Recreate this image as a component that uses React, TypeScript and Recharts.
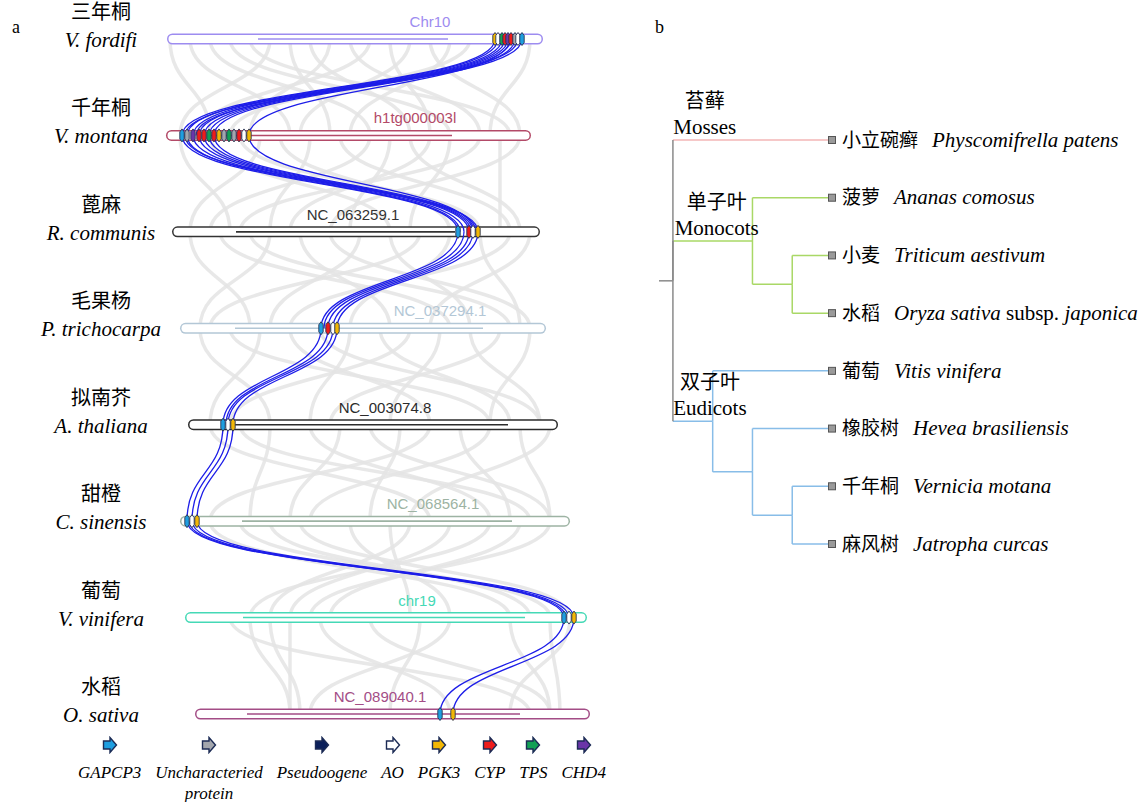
import React from "react";
import { ComposedChart, Line, Scatter, XAxis, YAxis, Legend } from "recharts";

const SERIF = "'Liberation Serif', 'Times New Roman', 'Noto Sans CJK SC', serif";
const SANS = "'Liberation Sans', Arial, sans-serif";

// ---- panel a: collinearity across 8 genomes ----
const speciesZh = ["三年桐", "千年桐", "蓖麻", "毛果杨", "拟南芥", "甜橙", "葡萄", "水稻"];
const speciesLatin = [
  "V. fordifi",
  "V. montana",
  "R. communis",
  "P. trichocarpa",
  "A. thaliana",
  "C. sinensis",
  "V. vinifera",
  "O. sativa",
];
const chromNames = [
  "Chr10",
  "h1tg000003l",
  "NC_063259.1",
  "NC_037294.1",
  "NC_003074.8",
  "NC_068564.1",
  "chr19",
  "NC_089040.1",
];
const chromColors = ["#9d8cf0", "#b34a68", "#333333", "#b3c7d6", "#2b2b2b", "#9db3a3", "#45d9b6", "#a34d86"];
// chromosome extents and inner segment, Mb
const chromStart = [1.7, 1.6, 2.2, 3.0, 3.8, 3.0, 3.5, 4.5];
const chromEnd = [39.3, 38.1, 39.0, 39.6, 40.8, 42.0, 43.7, 44.0];
const innerStart = [10.8, 6.0, 8.6, 8.5, 8.5, 9.2, 9.3, 9.7];
const innerEnd = [29.8, 30.2, 30.5, 33.3, 35.8, 36.2, 37.5, 37.0];
const chromLabelPos = [28.0, 26.5, 20.3, 29.0, 23.5, 28.3, 26.7, 23.0];

const genes = ["GAPCP3", "Uncharacteried protein", "Pseudoogene", "AO", "PGK3", "CYP", "TPS", "CHD4"];
const geneColors = ["#1e9ee0", "#a3a6ad", "#0b1f5a", "#ffffff", "#f2b705", "#ee1c1c", "#12a055", "#6a35a8"];

// gene positions on each chromosome and which gene (index into genes)
const markerPos = [
  [34.5, 34.8, 35.2, 35.5, 35.8, 36.1, 36.5, 36.8, 37.2],
  [3.2, 3.7, 4.3, 4.9, 5.4, 5.9, 6.4, 6.9, 7.4, 7.9, 8.4, 8.9, 9.4, 9.9],
  [30.8, 31.9, 32.3, 32.8],
  [17.1, 17.8, 18.3, 18.7],
  [7.3, 7.8, 8.3],
  [3.7, 4.2, 4.7],
  [41.4, 41.9, 42.4],
  [29.0, 30.3],
];
const markerGene = [
  [4, 3, 6, 5, 7, 5, 1, 3, 0],
  [0, 1, 7, 5, 5, 6, 5, 4, 1, 6, 1, 5, 3, 4],
  [0, 5, 3, 4],
  [0, 5, 3, 4],
  [0, 3, 4],
  [0, 3, 4],
  [0, 3, 4],
  [0, 4],
];

// highlighted links between neighbouring rows: [upper pos, lower pos]
const blueLinks = [
  [[34.5, 3.2], [34.8, 3.7], [35.2, 4.3], [35.5, 4.9], [35.8, 5.4], [36.1, 5.9], [36.5, 6.4], [36.8, 3.5], [37.2, 4.6], [36.0, 9.9]],
  [[3.2, 30.8], [3.7, 31.0], [4.3, 31.4], [4.9, 31.9], [5.4, 32.1], [5.9, 32.3], [6.4, 32.6], [3.5, 32.8], [9.9, 32.4]],
  [[30.8, 17.1], [31.4, 17.4], [31.9, 17.8], [32.3, 18.3], [32.8, 18.7]],
  [[17.1, 7.3], [17.8, 7.6], [18.3, 7.8], [18.7, 8.3]],
  [[7.3, 3.7], [7.8, 4.2], [8.3, 4.7]],
  [[3.7, 41.4], [3.9, 41.6], [4.2, 41.9], [4.7, 42.4]],
  [[41.4, 29.0], [42.4, 30.3]],
];

// background collinear blocks
const grayLinks = [
  [[2, 6], [4, 14], [6, 22], [8, 30], [10, 36], [12, 3], [14, 18], [16, 26], [18, 10], [20, 33], [22, 5], [24, 28], [26, 15], [28, 37], [30, 20], [32, 8], [38, 34]],
  [[3, 8], [6, 24], [9, 33], [11, 4], [13, 30], [16, 12], [19, 36], [22, 6], [24, 20], [26, 37], [28, 14], [30, 26], [33, 9], [35, 35], [37, 18]],
  [[4, 10], [7, 30], [10, 36], [12, 5], [15, 24], [18, 38], [21, 12], [24, 32], [27, 6], [30, 20], [33, 37], [36, 14], [38, 28]],
  [[5, 12], [8, 34], [11, 6], [14, 28], [17, 39], [20, 16], [23, 36], [26, 8], [29, 24], [32, 39], [35, 18], [38, 34]],
  [[6, 28], [9, 38], [12, 10], [16, 34], [19, 14], [22, 40], [25, 22], [28, 6], [31, 36], [34, 16], [37, 40], [40, 26]],
  [[6, 36], [9, 40], [12, 38], [15, 42], [20, 30], [26, 12], [30, 14], [34, 10], [37, 18], [40, 16], [24, 26]],
  [[8, 38], [10, 14], [12, 15], [14, 14], [17, 30], [22, 40], [30, 16], [36, 40], [40, 41], [42, 36], [27, 24]],
];

// ---- panel b: species tree ----
const leafZh = ["小立碗癣", "菠萝", "小麦", "水稻", "葡萄", "橡胶树", "千年桐", "麻风树"];
const leafLatin = [
  "Physcomifrella patens",
  "Ananas comosus",
  "Triticum aestivum",
  "Oryza sativa subsp. japonica",
  "Vitis vinifera",
  "Hevea brasiliensis",
  "Vernicia motana",
  "Jatropha curcas",
];
// internal nodes: root, monocots, wheat+rice, eudicots, rubber+(tung, jatropha), tung+jatropha
const nodeDepth = [0, 2, 3, 1, 2, 3];
const nodeY = [2.44, 1.75, 2.5, 4.875, 5.75, 6.5];
const leafDepth = 4;
const rootStub = -0.35;
// edges: parent node -> child ("N" node / "L" leaf)
const edgeParent = [0, 0, 1, 1, 2, 2, 0, 3, 3, 4, 4, 5, 5];
const edgeChild = ["L0", "N1", "L1", "N2", "L2", "L3", "N3", "L4", "N4", "L5", "N5", "L6", "L7"];
const edgeColor = [
  "#f3b6b6",
  "#a9d866", "#a9d866", "#a9d866", "#a9d866", "#a9d866",
  "#88bde8", "#88bde8", "#88bde8", "#88bde8", "#88bde8", "#88bde8", "#88bde8",
];
const rootColor = "#8a8a8a";
const cladeZh = ["苔藓", "单子叶", "双子叶"];
const cladeEn = ["Mosses", "Monocots", "Eudicots"];
// label centre (depth) and the branch it sits on
const cladeX = [0.8, 1.1, 0.93];
const cladeY = [0, 1.75, 4.875];

const rows = speciesZh.map((_, i) => i);

const markerData = markerPos.flatMap((list, r) =>
  list.map((x, j) => ({ x, y: r, gene: markerGene[r][j] }))
);
const chromLabelData = chromNames.map((name, r) => ({
  x: chromLabelPos[r],
  y: r,
  name,
  color: chromColors[r],
}));

// round caps stick out half the stroke (5.5px = 0.55 Mb)
const CAP = 0.55;

function GeneMark(props: any) {
  const { cx, cy, payload } = props;
  const d = `M${cx - 2.2},${cy - 3.5} L${cx},${cy - 6.5} L${cx + 2.2},${cy - 3.5} V${cy + 3.5} L${cx},${cy + 6.5} L${cx - 2.2},${cy + 3.5} Z`;
  return <path d={d} fill={geneColors[payload.gene]} stroke="#2a3452" strokeWidth={0.9} />;
}

function ChromLabel(props: any) {
  const { cx, cy, payload } = props;
  return (
    <text x={cx} y={cy - 12} textAnchor="middle" fill={payload.color} fontSize={15} fontFamily={SANS}>
      {payload.name}
    </text>
  );
}

function SpeciesTick(props: any) {
  const { x, y, payload } = props;
  const i = payload.value;
  return (
    <g>
      <text x={x - 41} y={y - 27} textAnchor="middle" dominantBaseline="central" fontSize={20} fontFamily={SERIF} fill="#000">
        {speciesZh[i]}
      </text>
      <text x={x - 41} y={y + 1} textAnchor="middle" dominantBaseline="central" fontSize={21} fontStyle="italic" fontFamily={SERIF} fill="#000">
        {speciesLatin[i]}
      </text>
    </g>
  );
}

function GeneLegend() {
  return (
    <div
      style={{
        display: "flex",
        justifyContent: "space-between",
        marginLeft: 78,
        width: 528,
        fontFamily: SERIF,
        fontStyle: "italic",
        fontSize: 17,
        color: "#000",
      }}
    >
      {genes.map((g, i) => (
        <div key={g} style={{ display: "flex", flexDirection: "column", alignItems: "center" }}>
          <svg width={16} height={18}>
            <path d="M1.5,5 H8 V1.5 L14.5,9 L8,16.5 V13 H1.5 Z" fill={geneColors[i]} stroke="#1c2b55" strokeWidth={1.4} />
          </svg>
          <div style={{ marginTop: 8, lineHeight: "21px", textAlign: "center", whiteSpace: "pre" }}>
            {g.replace(" ", "\n")}
          </div>
        </div>
      ))}
    </div>
  );
}

function SyntenyPanel() {
  return (
    <ComposedChart width={640} height={802} margin={{ top: 39, right: 30, bottom: 88, left: 0 }}>
      <XAxis type="number" dataKey="x" domain={[0, 46]} hide />
      <YAxis
        type="number"
        dataKey="y"
        domain={[0, 7]}
        reversed
        ticks={rows}
        interval={0}
        width={150}
        axisLine={false}
        tickLine={false}
        tick={<SpeciesTick />}
      />

      {grayLinks.flatMap((gap, g) =>
        gap.map(([a, b], k) => (
          <Line
            key={`g${g}-${k}`}
            data={[{ x: a, y: g }, { x: b, y: g + 1 }]}
            dataKey="y"
            type="bumpY"
            stroke="#e4e4e4"
            strokeOpacity={0.85}
            strokeWidth={3.5}
            dot={false}
            activeDot={false}
            isAnimationActive={false}
          />
        ))
      )}

      {rows.map((r) => (
        <Line
          key={`co${r}`}
          data={[{ x: chromStart[r] + CAP, y: r }, { x: chromEnd[r] - CAP, y: r }]}
          dataKey="y"
          stroke={chromColors[r]}
          strokeWidth={11}
          strokeLinecap="round"
          dot={false}
          activeDot={false}
          isAnimationActive={false}
        />
      ))}
      {rows.map((r) => (
        <Line
          key={`cf${r}`}
          data={[{ x: chromStart[r] + CAP, y: r }, { x: chromEnd[r] - CAP, y: r }]}
          dataKey="y"
          stroke="#ffffff"
          strokeWidth={8}
          strokeLinecap="round"
          dot={false}
          activeDot={false}
          isAnimationActive={false}
        />
      ))}
      {rows.map((r) => (
        <Line
          key={`ci${r}`}
          data={[{ x: innerStart[r], y: r }, { x: innerEnd[r], y: r }]}
          dataKey="y"
          stroke={chromColors[r]}
          strokeWidth={1.6}
          dot={false}
          activeDot={false}
          isAnimationActive={false}
        />
      ))}

      {blueLinks.flatMap((gap, g) =>
        gap.map(([a, b], k) => (
          <Line
            key={`b${g}-${k}`}
            data={[{ x: a, y: g }, { x: b, y: g + 1 }]}
            dataKey="y"
            type="bumpY"
            stroke="#1d1de8"
            strokeWidth={1.3}
            dot={false}
            activeDot={false}
            isAnimationActive={false}
          />
        ))
      )}

      <Scatter data={markerData} shape={<GeneMark />} isAnimationActive={false} />
      <Scatter data={chromLabelData} shape={<ChromLabel />} isAnimationActive={false} />

      <Legend
        layout="horizontal"
        verticalAlign="middle"
        align="center"
        content={<GeneLegend />}
        wrapperStyle={{ left: 0, top: 736, width: 640 }}
      />
    </ComposedChart>
  );
}

function LeafTick(props: any) {
  const { x, y, payload } = props;
  const i = payload.value;
  const parts = leafLatin[i].split(" subsp. ");
  return (
    <text x={x} y={y} dy="0.35em" fontSize={19} fontFamily={SERIF} fill="#000">
      <tspan>{leafZh[i]}</tspan>
      <tspan dx={14} fontSize={21} fontStyle="italic">{parts[0]}</tspan>
      {parts.length > 1 && <tspan fontSize={21}> subsp. </tspan>}
      {parts.length > 1 && <tspan fontSize={21} fontStyle="italic">{parts[1]}</tspan>}
    </text>
  );
}

function LeafMark(props: any) {
  const { cx, cy } = props;
  return <rect x={cx - 3.5} y={cy - 3.5} width={7} height={7} fill="#9a9a9a" stroke="#555" strokeWidth={1} />;
}

function CladeLabel(props: any) {
  const { cx, cy, payload } = props;
  return (
    <g fontFamily={SERIF} fill="#000">
      <text x={cx} y={cy - 39} textAnchor="middle" dominantBaseline="central" fontSize={20}>{payload.zh}</text>
      <text x={cx} y={cy - 13} textAnchor="middle" dominantBaseline="central" fontSize={21}>{payload.en}</text>
    </g>
  );
}

function childPos(c: string) {
  const idx = Number(c.slice(1));
  return c[0] === "L" ? { d: leafDepth, y: idx } : { d: nodeDepth[idx], y: nodeY[idx] };
}

function TreePanel() {
  const leaves = leafZh.map((_, i) => ({ x: leafDepth, y: i }));
  const clades = cladeZh.map((zh, i) => ({ x: cladeX[i], y: cladeY[i], zh, en: cladeEn[i] }));
  return (
    <ComposedChart width={501} height={802} margin={{ top: 140, right: 0, bottom: 258, left: 19 }}>
      <XAxis type="number" dataKey="x" domain={[rootStub, leafDepth]} hide />
      <YAxis
        type="number"
        dataKey="y"
        orientation="right"
        domain={[0, 7]}
        reversed
        ticks={rows}
        interval={0}
        width={309}
        axisLine={false}
        tickLine={false}
        tickMargin={4}
        tick={<LeafTick />}
      />

      <Line
        data={[{ x: rootStub, y: nodeY[0] }, { x: nodeDepth[0], y: nodeY[0] }]}
        dataKey="y"
        stroke={rootColor}
        strokeWidth={1.5}
        dot={false}
        activeDot={false}
        isAnimationActive={false}
      />
      {edgeChild.map((c, k) => {
        const p = edgeParent[k];
        const ch = childPos(c);
        return (
          <Line
            key={`h${k}`}
            data={[{ x: nodeDepth[p], y: ch.y }, { x: ch.d, y: ch.y }]}
            dataKey="y"
            stroke={edgeColor[k]}
            strokeWidth={1.5}
            dot={false}
            activeDot={false}
            isAnimationActive={false}
          />
        );
      })}
      {edgeChild.map((c, k) => {
        const p = edgeParent[k];
        const ch = childPos(c);
        return (
          <Line
            key={`v${k}`}
            data={[{ x: nodeDepth[p], y: nodeY[p] }, { x: nodeDepth[p], y: ch.y }]}
            dataKey="y"
            stroke={p === 0 ? rootColor : edgeColor[k]}
            strokeWidth={1.5}
            dot={false}
            activeDot={false}
            isAnimationActive={false}
          />
        );
      })}

      <Scatter data={leaves} shape={<LeafMark />} isAnimationActive={false} />
      <Scatter data={clades} shape={<CladeLabel />} isAnimationActive={false} />
    </ComposedChart>
  );
}

export default function App() {
  return (
    <div style={{ position: "absolute", left: 0, top: 0, width: 1141, height: 802, background: "#fff" }}>
      <div style={{ position: "absolute", left: 12, top: 17, fontFamily: SERIF, fontSize: 18 }}>a</div>
      <div style={{ position: "absolute", left: 655, top: 17, fontFamily: SERIF, fontSize: 18 }}>b</div>
      <div style={{ position: "absolute", left: 0, top: 0 }}>
        <SyntenyPanel />
      </div>
      <div style={{ position: "absolute", left: 640, top: 0 }}>
        <TreePanel />
      </div>
    </div>
  );
}
